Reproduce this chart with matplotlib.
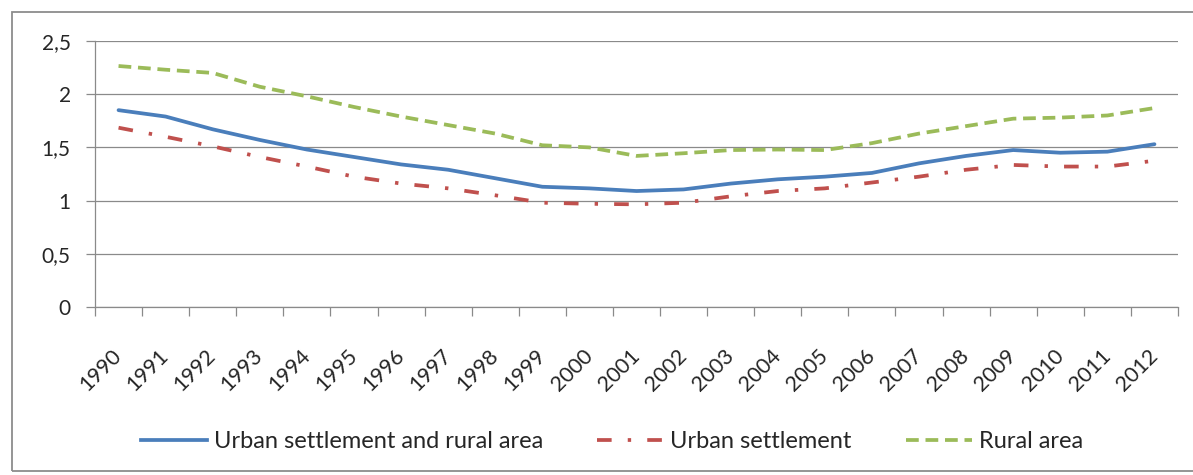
import matplotlib
matplotlib.use("Agg")
import matplotlib.pyplot as plt
from matplotlib.patches import Rectangle
from matplotlib.lines import Line2D

years = [str(y) for y in range(1990, 2013)]
total = [1.85, 1.79, 1.67, 1.57, 1.48, 1.41, 1.34, 1.29, 1.21, 1.13, 1.115, 1.09,
         1.105, 1.16, 1.20, 1.225, 1.26, 1.35, 1.42, 1.475, 1.45, 1.46, 1.53]
urban = [1.685, 1.60, 1.51, 1.41, 1.32, 1.225, 1.16, 1.115, 1.05, 0.98, 0.97, 0.965,
         0.98, 1.04, 1.09, 1.115, 1.17, 1.225, 1.29, 1.335, 1.32, 1.32, 1.375]
rural = [2.265, 2.23, 2.20, 2.07, 1.98, 1.88, 1.79, 1.71, 1.63, 1.52, 1.50, 1.42,
         1.445, 1.475, 1.48, 1.475, 1.54, 1.63, 1.70, 1.77, 1.78, 1.80, 1.87]
series_names = ["Urban settlement and rural area", "Urban settlement", "Rural area"]
y_ticks = [0, 0.5, 1, 1.5, 2, 2.5]
y_tick_labels = ["0", "0,5", "1", "1,5", "2", "2,5"]

plt.rcParams["font.family"] = ["Lato", "DejaVu Sans"]
TEXT = "#262626"
GRID = "#8a8a8a"

W, H = 1193, 475
fig = plt.figure(figsize=(W / 100, H / 100), dpi=100)
fig.patch.set_facecolor("white")

# outer chart frame
fig.patches.append(Rectangle((11.5 / W, 1 - 471 / H), 1.2, (471 - 12) / H,
                             transform=fig.transFigure, fill=False,
                             edgecolor="#8c8c8c", linewidth=1.3))

ax = fig.add_axes([95 / W, 1 - 307 / H, (1178 - 95) / W, (307 - 41) / H])
n = len(years)
x = list(range(n))

ax.plot(x, total, color="#4a7ebb", lw=2.7, solid_capstyle="round", zorder=3)
ax.plot(x, urban, color="#c0504d", lw=2.7, dashes=(3.9, 4.3, 0.9, 4.3),
        dash_capstyle="butt", zorder=3)
ax.plot(x, rural, color="#9bbb59", lw=2.7, dashes=(3.4, 1.8),
        dash_capstyle="butt", zorder=3)

ax.set_xlim(-0.5, n - 0.5)
ax.set_ylim(0, 2.5)

ax.set_yticks(y_ticks)
ax.set_yticklabels(y_tick_labels)
ax.yaxis.grid(True, color=GRID, lw=0.9)
ax.set_axisbelow(True)

# category ticks sit between the categories, labels at the centres
ax.set_xticks([i - 0.5 for i in range(n + 1)])
ax.set_xticklabels([])
ax.set_xticks(x, minor=True)
ax.set_xticklabels(years, minor=True, rotation=45, ha="right", va="center",
                   rotation_mode="anchor", fontsize=15.5, color=TEXT)
ax.tick_params(axis="x", which="minor", length=0, pad=33)
ax.tick_params(axis="x", which="major", length=6.5, width=0.9, color=GRID,
               direction="out")
ax.tick_params(axis="y", length=6.5, width=0.9, color=GRID, pad=11,
               labelsize=15, labelcolor=TEXT)

for s in ("top", "right"):
    ax.spines[s].set_visible(False)
for s in ("left", "bottom"):
    ax.spines[s].set_color(GRID)
    ax.spines[s].set_linewidth(0.9)

handles = [
    Line2D([], [], color="#4a7ebb", lw=2.7),
    Line2D([], [], color="#c0504d", lw=2.7, dashes=(3.9, 4.3, 0.9, 4.3)),
    Line2D([], [], color="#9bbb59", lw=2.7, dashes=(3.4, 1.8)),
]
fig.legend(handles, series_names, loc="center", bbox_to_anchor=(612 / W, 1 - 442 / H),
           ncol=3, frameon=False, fontsize=17, handlelength=2.8,
           handletextpad=0.3, columnspacing=2.3, labelcolor=TEXT)

fig.savefig("out.png", dpi=100, facecolor="white")
